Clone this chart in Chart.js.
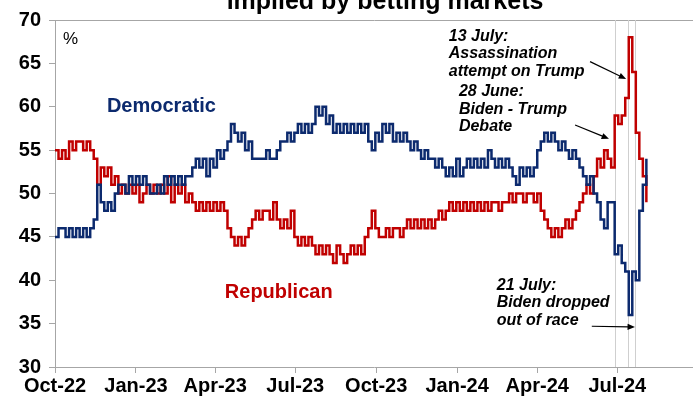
<!DOCTYPE html>
<html>
<head>
<meta charset="utf-8">
<script src="https://cdn.jsdelivr.net/npm/chart.js@4.4.1/dist/chart.umd.min.js"></script>
<style>
  html, body { margin: 0; padding: 0; background: #fff; }
  #wrap { width: 693px; height: 398px; position: relative; }
</style>
</head>
<body>
<div id="wrap"><canvas id="oddsChart"></canvas></div>
<script>
// series start and sampling step (days)
const startDate = "2022-10-01";
const stepDays = 4;

const tickLabels = ["Oct-22", "Jan-23", "Apr-23", "Jul-23", "Oct-23", "Jan-24", "Apr-24", "Jul-24"];
const tickDates = ["2022-10-01", "2023-01-01", "2023-04-01", "2023-07-01", "2023-10-01", "2024-01-01", "2024-04-01", "2024-07-01"];
const eventDates = ["2024-06-28", "2024-07-13", "2024-07-21"];

// implied win probability, %
const democratic = [
  45, 46, 46, 45, 46, 45, 46, 45, 46, 45, 46,
  47, 51, 49, 48, 49, 48, 50, 51, 51, 50,
  52, 51, 52, 51, 52, 51, 50, 50, 51, 50,
  52, 51, 52, 51, 52, 51, 52, 52, 53, 54,
  53, 54, 52, 54, 53, 55, 54, 55, 56, 58,
  57, 56, 57, 55, 56, 54, 54, 54, 54, 55,
  54, 54, 55, 56, 56, 57, 56, 57, 58, 57,
  58, 57, 58, 60, 59, 60, 58, 59, 57, 58,
  57, 58, 57, 58, 57, 58, 57, 58, 56, 55,
  57, 56, 58, 57, 58, 56, 57, 56, 57, 56,
  55, 56, 55, 54, 55, 54, 54, 53, 54, 53,
  52, 53, 52, 54, 52, 53, 54, 53, 54, 53,
  54, 53, 55, 54, 53, 54, 53, 54, 53, 52,
  51, 53, 52, 53, 52, 53, 55, 56, 57, 56,
  57, 56, 55, 56, 55, 54, 55, 54, 53, 52,
  51, 52, 50, 49, 47, 46, 49, 49, 43, 44,
  42, 41, 36, 41, 40, 48, 51, 54,
];
const republican = [
  55, 54, 55, 54, 56, 55, 56, 56, 55, 56, 55,
  54, 51, 53, 52, 53, 51, 52, 50, 51, 50,
  51, 50, 51, 49, 50, 51, 50, 51, 50, 51,
  50, 52, 49, 51, 50, 51, 49, 50, 49, 48,
  49, 48, 49, 48, 49, 48, 49, 48, 46, 45,
  44, 45, 44, 45, 46, 47, 48, 47, 48, 48,
  47, 49, 47, 46, 47, 46, 48, 45, 44, 45,
  44, 45, 44, 43, 44, 43, 44, 43, 42, 44,
  43, 42, 43, 44, 43, 44, 43, 45, 46, 48,
  46, 45, 45, 46, 45, 46, 46, 45, 46, 47,
  46, 47, 46, 47, 46, 47, 46, 47, 48, 47,
  48, 49, 48, 49, 48, 49, 48, 49, 48, 49,
  48, 49, 48, 49, 49, 48, 49, 49, 50, 49,
  50, 50, 49, 50, 50, 49, 50, 48, 47, 46,
  45, 46, 45, 46, 47, 46, 47, 48, 49, 50,
  51, 50, 52, 54, 53, 55, 54, 53, 59, 58,
  59, 61, 68, 64, 57, 54, 52, 49,
];

const demColor = "#0c2a6e";
const repColor = "#c00000";
const axisGrey = "#a6a6a6";
const fontFamily = "'Liberation Sans', Arial, sans-serif";

const dayOf = (d) => (Date.parse(d) - Date.parse(startDate)) / 86400000;
const tickDays = tickDates.map(dayOf);
const toPoints = (arr) => arr.map((v, i) => ({ x: i * stepDays, y: v }));

// text blocks placed in data units (day, value)
const notes = [
  { lines: ["%"], day: 9, value: 67.8, color: "#000", font: `17px ${fontFamily}` },
  { lines: ["Democratic"], day: 59, value: 60.05, color: demColor, font: `bold 20px ${fontFamily}` },
  { lines: ["Republican"], day: 193, value: 38.6, color: repColor, font: `bold 20px ${fontFamily}` },
  { lines: ["13 July:", "Assassination", "attempt on Trump"], day: 447.5, value: 68.1, color: "#000", font: `italic bold 16px ${fontFamily}` },
  { lines: ["28 June:", "Biden - Trump", "Debate"], day: 459, value: 61.7, color: "#000", font: `italic bold 16px ${fontFamily}` },
  { lines: ["21 July:", "Biden dropped", "out of race"], day: 502, value: 39.4, color: "#000", font: `italic bold 16px ${fontFamily}` },
];
const arrows = [
  { from: [608, 65.2], to: [649, 63.2] },
  { from: [591, 57.9], to: [629.5, 56.3] },
  { from: [610, 34.7], to: [659, 34.6] },
];

const overlay = {
  id: "overlay",
  beforeDatasetsDraw(chart) {
    const { ctx, chartArea, scales } = chart;
    ctx.save();
    ctx.strokeStyle = "#cfcfcf";
    ctx.lineWidth = 1;
    eventDates.forEach((d) => {
      const px = Math.round(scales.x.getPixelForValue(dayOf(d))) + 0.5;
      ctx.beginPath();
      ctx.moveTo(px, chartArea.top);
      ctx.lineTo(px, chartArea.bottom);
      ctx.stroke();
    });
    ctx.restore();
  },
  afterDatasetsDraw(chart) {
    const { ctx, scales } = chart;
    const { x, y } = scales;
    ctx.save();
    ctx.textAlign = "left";
    ctx.textBaseline = "middle";
    notes.forEach((n) => {
      ctx.font = n.font;
      ctx.fillStyle = n.color;
      const px = x.getPixelForValue(n.day);
      const py = y.getPixelForValue(n.value);
      n.lines.forEach((t, i) => ctx.fillText(t, px, py + i * 17.5));
    });

    ctx.strokeStyle = "#000";
    ctx.fillStyle = "#000";
    ctx.lineWidth = 1.2;
    arrows.forEach((a) => {
      const x1 = x.getPixelForValue(a.from[0]);
      const y1 = y.getPixelForValue(a.from[1]);
      const x2 = x.getPixelForValue(a.to[0]);
      const y2 = y.getPixelForValue(a.to[1]);
      const ang = Math.atan2(y2 - y1, x2 - x1);
      const head = 8;
      ctx.beginPath();
      ctx.moveTo(x1, y1);
      ctx.lineTo(x2 - Math.cos(ang) * head * 0.8, y2 - Math.sin(ang) * head * 0.8);
      ctx.stroke();
      ctx.beginPath();
      ctx.moveTo(x2, y2);
      ctx.lineTo(x2 - head * Math.cos(ang - 0.4), y2 - head * Math.sin(ang - 0.4));
      ctx.lineTo(x2 - head * Math.cos(ang + 0.4), y2 - head * Math.sin(ang + 0.4));
      ctx.closePath();
      ctx.fill();
    });

    // title, only its lower part shows at the top edge
    ctx.font = `bold 25px ${fontFamily}`;
    ctx.textAlign = "center";
    ctx.textBaseline = "alphabetic";
    ctx.fillText("implied by betting markets", 385, 9);
    ctx.restore();
  },
};

const ctx = document.getElementById("oddsChart").getContext("2d");
new Chart(ctx, {
  type: "line",
  data: {
    datasets: [
      {
        label: "Democratic",
        data: toPoints(democratic),
        borderColor: demColor,
        borderWidth: 2.5,
        pointRadius: 0,
        stepped: true,
      },
      {
        label: "Republican",
        data: toPoints(republican),
        borderColor: repColor,
        borderWidth: 2.5,
        pointRadius: 0,
        stepped: true,
      },
    ],
  },
  options: {
    responsive: true,
    maintainAspectRatio: false,
    animation: false,
    layout: { padding: { top: 19, right: 0, bottom: 0, left: 0 } },
    plugins: {
      legend: { display: false },
      tooltip: { enabled: false },
    },
    scales: {
      x: {
        type: "linear",
        min: 0,
        max: 725,
        afterBuildTicks: (scale) => {
          scale.ticks = tickDays.map((v) => ({ value: v }));
        },
        afterFit: (scale) => {
          scale.height = 31;
        },
        grid: { drawOnChartArea: false, color: axisGrey, tickColor: axisGrey, tickLength: 6 },
        border: { color: axisGrey, width: 1 },
        ticks: {
          autoSkip: false,
          maxRotation: 0,
          padding: 1,
          color: "#000",
          font: { family: fontFamily, size: 20, weight: "bold" },
          callback: (v) => tickLabels[tickDays.indexOf(v)] || "",
        },
      },
      y: {
        min: 30,
        max: 70,
        afterFit: (scale) => {
          scale.width = 55;
        },
        grid: {
          color: (c) => (c.tick && c.tick.value === 70 ? axisGrey : "transparent"),
          tickColor: axisGrey,
          tickLength: 6,
        },
        border: { color: axisGrey, width: 1 },
        ticks: {
          stepSize: 5,
          padding: 8,
          color: "#000",
          font: { family: fontFamily, size: 20, weight: "bold" },
        },
      },
    },
  },
  plugins: [overlay],
});
</script>
</body>
</html>
